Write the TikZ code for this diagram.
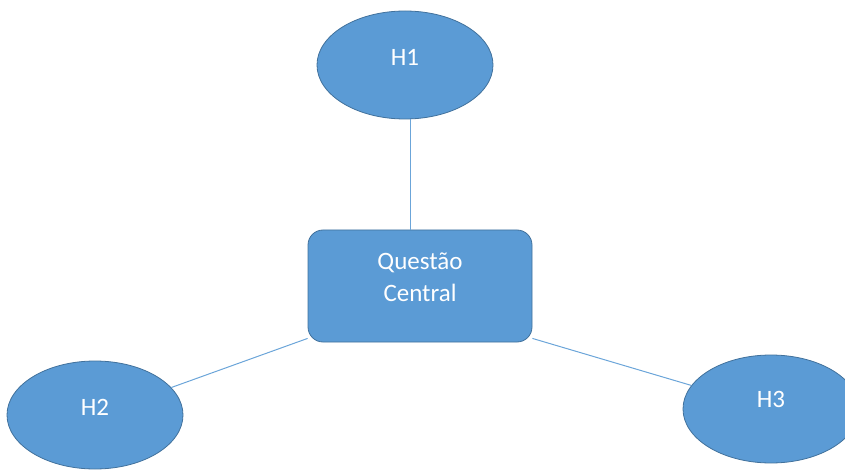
\documentclass[tikz,border=0pt]{standalone}
\usepackage{fontspec}
\setmainfont{Carlito}
\usetikzlibrary{shapes.geometric}
\definecolor{hypblue}{HTML}{5B9BD5}
\definecolor{hypedge}{HTML}{41719C}
\tikzset{hyp node/.style={ellipse,fill=hypblue,draw=hypedge,line width=0.8pt,minimum width=176pt,minimum height=108pt,inner sep=0pt},
         hyp label/.style={text=white,font=\fontsize{25}{30}\selectfont,yshift=8pt},
         central node/.style={rectangle,rounded corners=15pt,fill=hypblue,draw=hypedge,line width=0.8pt,minimum width=224pt,minimum height=112pt},
         central label/.style={text=white,align=center,font=\fontsize{25}{32}\selectfont,yshift=9pt}
}
\tikzset{link/.style={draw=hypblue!90!white,line width=1pt}}

\begin{document}
\begin{tikzpicture}[x=1pt,y=-1pt]
\useasboundingbox (0,0) rectangle (845,470);

\node[central node, label={[central label]center:Questão\\Central}] (central) at (420,286) {};
\node[hyp node, label={[hyp label]center:H1}] (h1) at (405,65) {};
\node[hyp node, label={[hyp label]center:H2}] (h2) at (95,415) {};
\node[hyp node, label={[hyp label,yshift=2pt]center:H3}] (h3) at (771,409) {};

\draw[link] ([xshift=5pt]h1.south) -- ([xshift=5pt]h1.south |- central.north);
\draw[link] (h2) -- (central.205);
\draw[link] (h3) -- (central.-25);
\end{tikzpicture}
\end{document}
